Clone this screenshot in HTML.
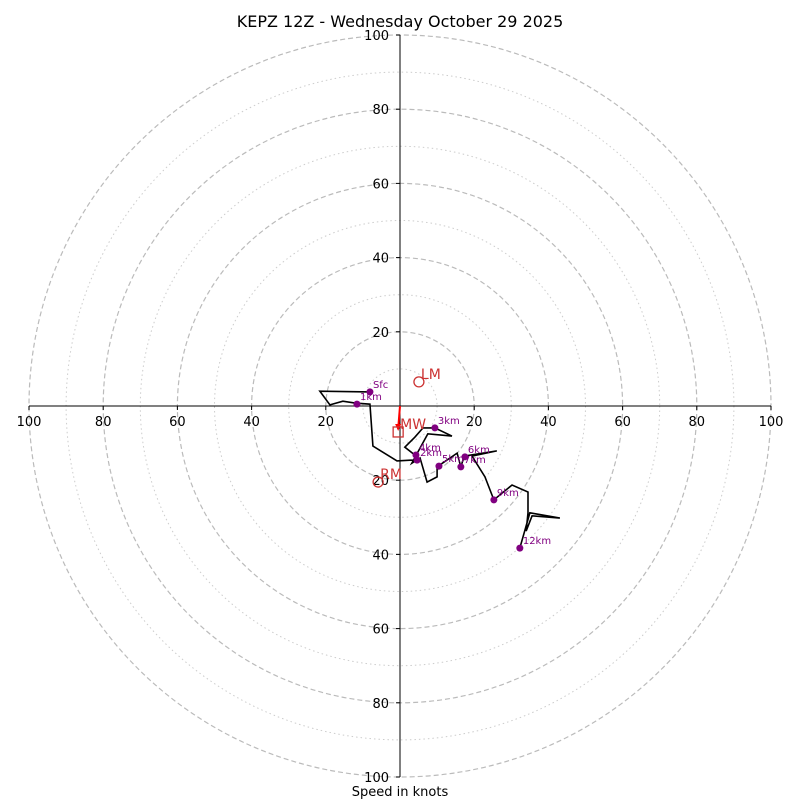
<!DOCTYPE html>
<html><head><meta charset="utf-8"><style>
body{margin:0;background:#fff}
svg{font-family:"DejaVu Sans","Liberation Sans",sans-serif}
</style></head><body>
<svg id="chart" width="800" height="800" xmlns="http://www.w3.org/2000/svg">
<text x="400" y="27" text-anchor="middle" font-size="16">KEPZ 12Z - Wednesday October 29 2025</text>
<text x="400" y="796" text-anchor="middle" font-size="13">Speed in knots</text>
<g id="rings"></g><g id="axes"></g><g id="trace"></g><g id="marks"></g>
</svg>
<script>
const ringValues=[10,20,30,40,50,60,70,80,90,100];
const tickLabels=[20,40,60,80,100];
const pathU=[-8.1,-21.6,-18.9,-15.4,-12.1,-8.1,-7.3,-0.8,2.7,4.6,4.0,1.3,4.0,6.2,9.4,14.0,7.5,5.1,3.2,5.4,7.3,10.0,10.0,15.4,16.4,17.3,26.1,19.4,22.9,25.3,30.2,34.5,34.5,34.0,35.6,43.1,35.0,32.3];
const pathV=[3.8,4.0,0.3,1.3,0.8,0.5,-10.8,-14.8,-14.6,-14.6,-13.2,-11.1,-8.4,-5.9,-5.9,-8.1,-7.5,-11.9,-15.4,-14.0,-20.5,-19.1,-16.4,-12.7,-16.4,-13.5,-12.1,-13.5,-19.1,-25.3,-21.3,-23.2,-28.8,-33.7,-29.6,-30.2,-28.8,-38.3];
const markLabels=["Sfc","1km","2km","3km","4km","5km","6km","7km","9km","12km"];
const markU=[-8.1,-11.6,4.6,9.4,4.3,10.5,17.5,16.4,25.3,32.3];
const markV=[3.8,0.5,-14.6,-5.9,-13.2,-16.2,-13.7,-16.4,-25.3,-38.3];
const motionLabels=["LM","MW","RM"];
const motionU=[5.1,-0.5,-5.9];
const motionV=[6.5,-7.0,-20.5];
const CX=400,CY=406,S=3.71;
const sx=u=>CX+u*S, sy=v=>CY-v*S;
const NS="http://www.w3.org/2000/svg";
function mk(tag,attrs,parent){const e=document.createElementNS(NS,tag);for(const k in attrs)e.setAttribute(k,attrs[k]);document.getElementById(parent).appendChild(e);return e;}
ringValues.forEach(r=>{const major=r%20===0;
 const c=mk('circle',{cx:CX,cy:CY,r:r*S,fill:'none',stroke:major?'#bbb':'#ccc','stroke-width':major?1.2:1,'stroke-dasharray':major?'5,3':'1.5,3'},'rings');
 
 });
let l=mk('line',{x1:CX,y1:sy(100),x2:CX,y2:sy(-100),stroke:'#000'},'axes');


l=mk('line',{x1:sx(-100),y1:CY,x2:sx(100),y2:CY,stroke:'#000'},'axes');


tickLabels.forEach(t=>{[1,-1].forEach(d=>{
 mk('line',{x1:CX-4,y1:sy(t*d),x2:CX,y2:sy(t*d),stroke:'#000'},'axes');
 const ty=mk('text',{x:CX-11,y:sy(t*d)+5,'text-anchor':'end','font-size':13},'axes');ty.textContent=t;
 
 
 mk('line',{x1:sx(t*d),y1:CY,x2:sx(t*d),y2:CY+4,stroke:'#000'},'axes');
 const tx=mk('text',{x:sx(t*d),y:CY+20,'text-anchor':'middle','font-size':13},'axes');tx.textContent=t;
 
 });});
const pl=mk('polyline',{points:pathU.map((u,i)=>sx(u)+','+sy(pathV[i])).join(' '),fill:'none',stroke:'#000','stroke-width':1.6,'stroke-linejoin':'miter'},'trace');


markLabels.forEach((n,i)=>{
 const c=mk('circle',{cx:sx(markU[i]),cy:sy(markV[i]),r:3.5,fill:'purple'},'marks');
 
 
 const t=mk('text',{x:sx(markU[i])+3,y:sy(markV[i])-4,'font-size':10,fill:'purple'},'marks');t.textContent=n;
 
 });
const ar=mk('line',{x1:CX,y1:CY,x2:sx(motionU[1]),y2:sy(motionV[1])-3,stroke:'red','stroke-width':2},'marks');


mk('polygon',{points:`${sx(motionU[1])-3},${sy(motionV[1])-8} ${sx(motionU[1])+3},${sy(motionV[1])-8} ${sx(motionU[1])},${sy(motionV[1])-1}`,fill:'red'},'marks');
motionLabels.forEach((n,i)=>{
 const x=sx(motionU[i]),y=sy(motionV[i]);
 const m=n==='MW'?mk('rect',{x:x-5,y:y-5,width:10,height:10,fill:'none',stroke:'#c33','stroke-width':1.3},'marks')
   :mk('circle',{cx:x,cy:y,r:5,fill:'none',stroke:'#c33','stroke-width':1.3},'marks');
 
 
 const t=mk('text',{x:x+2,y:y-3,'font-size':14,fill:'#c33'},'marks');t.textContent=n;
 
 });
</script>
</body></html>
